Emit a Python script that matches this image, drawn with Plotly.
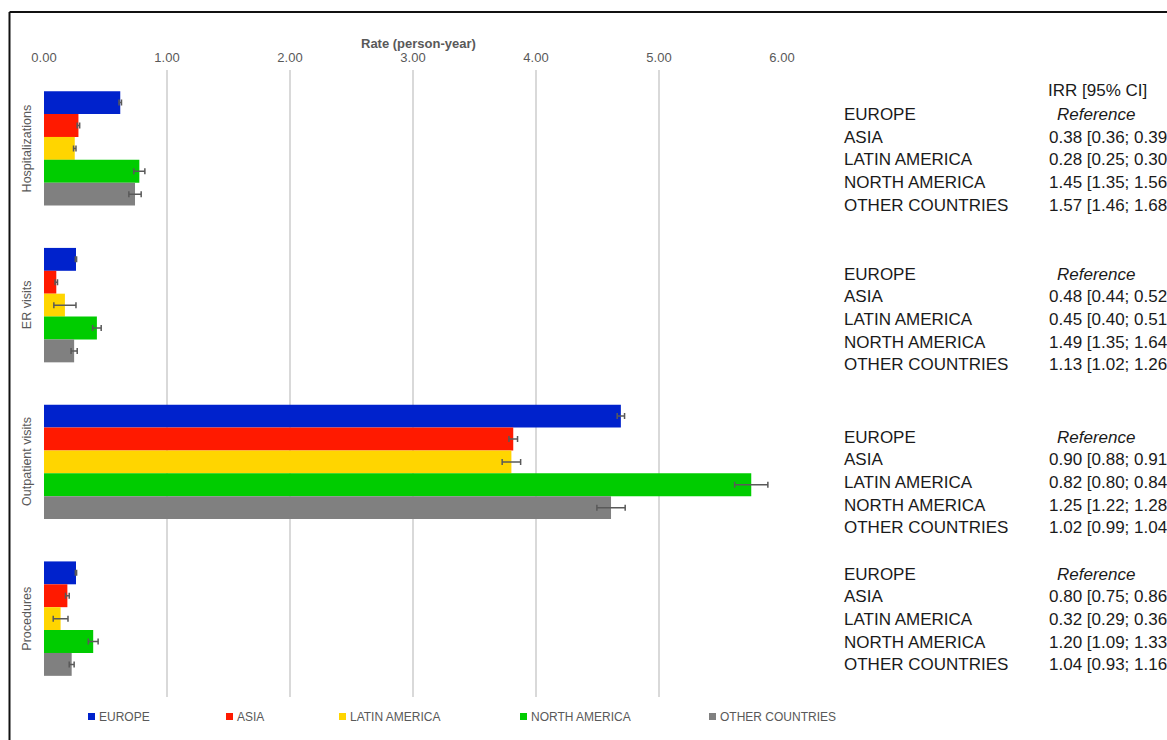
import plotly.graph_objects as go

W, H = 1167, 740
ML, MR, MT, MB = 44, 385, 70, 43
PW, PH = W - ML - MR, H - MT - MB

categories = ["Hospitalizations", "ER visits", "Outpatient visits", "Procedures"]
regions = ["EUROPE", "ASIA", "LATIN AMERICA", "NORTH AMERICA", "OTHER COUNTRIES"]
colors = ["#0022CC", "#FF1A00", "#FFD500", "#00CC00", "#808080"]

# rates (person-year) per region, in category order
europe = [0.62, 0.26, 4.69, 0.26]
asia = [0.28, 0.10, 3.815, 0.19]
latin_america = [0.25, 0.17, 3.80, 0.135]
north_america = [0.775, 0.43, 5.75, 0.40]
other_countries = [0.74, 0.245, 4.61, 0.225]

# half-width of 95% CI error bars
europe_err = [0.01, 0.005, 0.03, 0.005]
asia_err = [0.01, 0.01, 0.035, 0.015]
latin_america_err = [0.01, 0.09, 0.075, 0.06]
north_america_err = [0.045, 0.035, 0.135, 0.04]
other_countries_err = [0.05, 0.025, 0.115, 0.02]

values = [europe, asia, latin_america, north_america, other_countries]
errors = [europe_err, asia_err, latin_america_err, north_america_err, other_countries_err]

x_ticks = [0, 1, 2, 3, 4, 5, 6]

irr_header = "IRR [95% CI]"
irr_hospitalizations = ["Reference", "0.38 [0.36; 0.39]", "0.28 [0.25; 0.30]", "1.45 [1.35; 1.56]", "1.57 [1.46; 1.68]"]
irr_er_visits = ["Reference", "0.48 [0.44; 0.52]", "0.45 [0.40; 0.51]", "1.49 [1.35; 1.64]", "1.13 [1.02; 1.26]"]
irr_outpatient = ["Reference", "0.90 [0.88; 0.91]", "0.82 [0.80; 0.84]", "1.25 [1.22; 1.28]", "1.02 [0.99; 1.04]"]
irr_procedures = ["Reference", "0.80 [0.75; 0.86]", "0.32 [0.29; 0.36]", "1.20 [1.09; 1.33]", "1.04 [0.93; 1.16]"]
irr_tables = [irr_hospitalizations, irr_er_visits, irr_outpatient, irr_procedures]


def px(xp):
    return (xp - ML) / PW


def py(yp):
    return (H - MB - yp) / PH


FONT = "Liberation Sans, Arial, sans-serif"
GREY = "#595959"

fig = go.Figure()
for name, col, vals, errs in zip(regions, colors, values, errors):
    fig.add_trace(go.Bar(
        y=categories, x=vals, name=name, orientation="h",
        marker=dict(color=col, line=dict(width=0)),
        error_x=dict(type="data", array=errs, visible=True, color=GREY, thickness=1.5, width=3),
        showlegend=False,
    ))

annotations = []
shapes = []

annotations.append(dict(text="<b>Rate (person-year)</b>", xref="paper", yref="paper",
                        x=px(418), y=py(44), xanchor="center", yanchor="middle", showarrow=False,
                        font=dict(family=FONT, size=13, color=GREY)))

for cat in categories:
    annotations.append(dict(text=cat, xref="paper", yref="y", x=px(27), y=cat,
                            xanchor="center", yanchor="middle", textangle=-90, showarrow=False,
                            font=dict(family=FONT, size=12.5, color=GREY)))

# legend (drawn manually to match positions)
leg_sq = [88, 226, 339, 520, 709]
for name, col, x0 in zip(regions, colors, leg_sq):
    shapes.append(dict(type="rect", xref="paper", yref="paper", x0=px(x0), x1=px(x0 + 7),
                       y0=py(720), y1=py(713), fillcolor=col, line=dict(width=0)))
    annotations.append(dict(text=name, xref="paper", yref="paper", x=px(x0 + 8.5), y=py(716.5),
                            xanchor="left", yanchor="middle", showarrow=False,
                            font=dict(family=FONT, size=12, color=GREY)))

# IRR tables
TXT = "#1a1a1a"
annotations.append(dict(text=irr_header, xref="paper", yref="paper", x=px(1046), y=py(90.5),
                        xanchor="left", yanchor="middle", showarrow=False,
                        font=dict(family=FONT, size=17, color=TXT)))
group_start = [114.3, 274, 437, 574]
for table, y0 in zip(irr_tables, group_start):
    for i, (reg, val) in enumerate(zip(regions, table)):
        yy = y0 + i * 22.7
        annotations.append(dict(text=reg, xref="paper", yref="paper", x=px(842), y=py(yy),
                                xanchor="left", yanchor="middle", showarrow=False,
                                font=dict(family=FONT, size=17, color=TXT)))
        if val == "Reference":
            t, xx = "<i>Reference</i>", 1055
        else:
            t, xx = val, 1047
        annotations.append(dict(text=t, xref="paper", yref="paper", x=px(xx), y=py(yy),
                                xanchor="left", yanchor="middle", showarrow=False,
                                font=dict(family=FONT, size=17, color=TXT)))

# outer frame
shapes.append(dict(type="line", xref="paper", yref="paper", x0=px(9.5), x1=px(1300), y0=py(12), y1=py(12),
                   line=dict(color="#111111", width=2)))
shapes.append(dict(type="line", xref="paper", yref="paper", x0=px(9.5), x1=px(9.5), y0=py(12), y1=py(900),
                   line=dict(color="#111111", width=2)))

fig.update_layout(
    width=W, height=H,
    margin=dict(l=ML, r=MR, t=MT, b=MB, pad=0),
    paper_bgcolor="white", plot_bgcolor="white",
    barmode="group", bargap=0.27, bargroupgap=0,
    xaxis=dict(side="top", range=[0, 6], tickvals=x_ticks, tickformat=".2f",
               showgrid=True, gridcolor="#D9D9D9", gridwidth=1.5, zeroline=False,
               showline=False, ticks="", ticklabelstandoff=4,
               tickfont=dict(family=FONT, size=13, color=GREY)),
    yaxis=dict(autorange="reversed", showticklabels=False, showgrid=False, zeroline=False,
               showline=False, ticks=""),
    annotations=annotations, shapes=shapes,
    font=dict(family=FONT),
)

fig.write_html("out.html")
